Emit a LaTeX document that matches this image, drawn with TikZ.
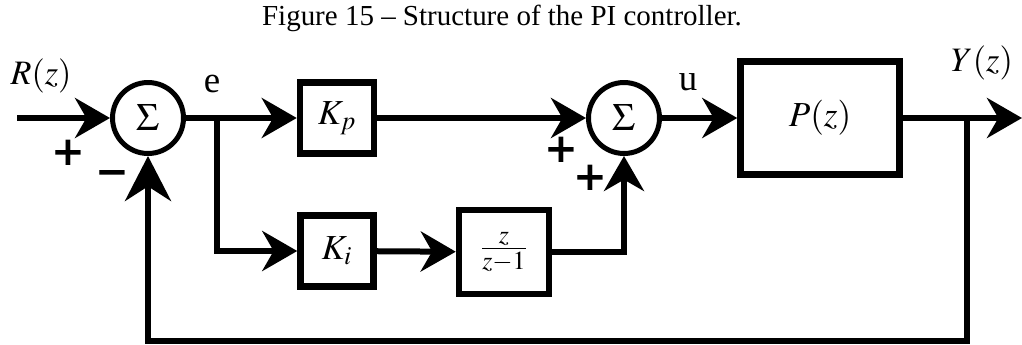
\documentclass[tikz,border=0pt]{standalone}
\usepackage{mathptmx}
\usepackage{fontspec}
\setmainfont{Liberation Serif}
\newfontfamily\signfont{DejaVu Sans}
\usetikzlibrary{arrows.meta}

\begin{document}
\begin{tikzpicture}[x=0.02cm, y=-0.02cm, line width=0.12cm,
    >={Stealth[length=0.7cm, width=0.8cm]},
    block/.style={draw, line width=0.13cm, inner sep=0pt, font=\fontsize{20}{20}\selectfont},
    sum/.style={draw, circle, line width=0.1cm, minimum size=1.42cm, inner sep=0pt, font=\fontsize{22}{22}\selectfont},
    sign/.style={font=\signfont\bfseries\fontsize{23}{23}\selectfont, inner sep=0pt},
    lab/.style={font=\fontsize{19.5}{19.5}\selectfont, inner sep=0pt}]
    \useasboundingbox (0,0) rectangle (1022,345);
    \node[font=\fontsize{16.5}{16.5}\selectfont] (title) at (502,18) {Figure 15 -- Structure of the PI controller.};
    % summing junctions and blocks
    \node[sum] (s1) at (148,118) {$\Sigma$};
    \node[sum] (s2) at (624,118) {$\Sigma$};
    \node[block, minimum width=1.48cm, minimum height=1.42cm] (kp) at (337,118) {$K_p$};
    \node[block, minimum width=1.46cm, minimum height=1.42cm] (ki) at (337,251) {$K_i$};
    \node[block, minimum width=1.8cm, minimum height=1.68cm] (int) at (504,252) {$\frac{z}{z-1}$};
    \node[block, minimum width=3.18cm, minimum height=2.26cm] (plant) at (820,118) {$P(z)$};
    \coordinate (in) at (17,118);
    \coordinate (eb) at (217,118);
    \coordinate (yb) at (967,118);
    \coordinate (out) at (1022,118);
    \coordinate (fb) at (967,341);
    % signal paths
    \draw[->] (in) -- (s1);
    \draw[->] (s1) -- (kp);
    \draw[->] (eb) |- (ki.west);
    \draw[->] (ki) -- (int);
    \draw[->] (int.east) -| (s2.south);
    \draw[->] (kp) -- (s2);
    \draw[->] (s2) -- (plant);
    \draw[->] (plant) -- (out);
    \draw[->, >={Stealth[length=0.9cm, width=0.92cm]}] (yb) -- (fb) -| (s1.south);
    % labels and signs
    \node[lab] (rz) at (41,76) {$R(z)$};
    \node[lab, font=\fontsize{21}{21}\selectfont] (e) at (212,84) {e};
    \node[lab, font=\fontsize{21}{21}\selectfont] (u) at (688,82) {u};
    \node[lab] (yz) at (982,63) {$Y(z)$};
    \node[sign] (p1) at (68,153) {+};
    \node[sign] (m1) at (112,178) {−};
    \node[sign] (p2) at (561,150) {+};
    \node[sign] (p3) at (590,178) {+};
\end{tikzpicture}
\end{document}
